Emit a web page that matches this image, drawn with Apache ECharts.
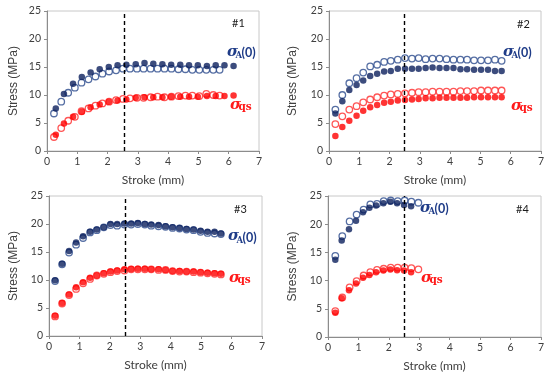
<!DOCTYPE html>
<html><head><meta charset="utf-8">
<script src="https://cdn.jsdelivr.net/npm/echarts@6/dist/echarts.min.js"></script>
<style>html,body{margin:0;padding:0;background:#fff}#c{width:550px;height:375px}</style>
</head><body><div id="c"></div>
<script>
// ---- Panel #1 ----
const p1FilledX = [0.29,0.56,0.86,1.15,1.44,1.74,2.04,2.33,2.62,2.93,3.22,3.51,3.81,4.10,4.40,4.69,4.98,5.28,5.57,5.86,6.16];
const p1NavyFilled = [7.6,10.2,12.0,13.2,14.0,14.6,15.0,15.3,15.4,15.5,15.7,15.6,15.5,15.4,15.4,15.3,15.3,15.2,15.3,15.3,15.2];
const p1RedFilled = [2.9,4.9,6.1,7.0,7.8,8.3,8.8,9.0,9.2,9.5,9.6,9.6,9.6,9.7,9.7,9.7,9.7,9.8,9.8,9.8,9.9];
const p1OpenX = [0.23,0.47,0.70,0.92,1.14,1.37,1.60,1.83,2.05,2.28,2.51,2.74,2.97,3.19,3.42,3.65,3.88,4.11,4.34,4.57,4.80,5.03,5.26,5.49,5.70];
const p1NavyOpen = [6.7,8.8,10.4,11.3,12.2,12.8,13.3,13.8,14.2,14.4,14.7,14.7,14.7,14.7,14.7,14.7,14.7,14.7,14.6,14.6,14.5,14.5,14.5,14.5,14.5];
const p1RedOpen = [2.5,4.1,5.4,6.1,7.1,7.6,8.1,8.5,8.8,9.1,9.3,9.4,9.5,9.5,9.6,9.7,9.6,9.7,9.8,9.9,9.9,9.8,10.2,10.0,9.9];
// ---- Panel #2 ----
const p2X = [0.21,0.44,0.67,0.91,1.13,1.36,1.59,1.82,2.04,2.27,2.51,2.74,2.96,3.19,3.42,3.65,3.88,4.11,4.34,4.56,4.79,5.02,5.25,5.48,5.70];
const p2NavyOpen = [7.4,10.0,12.1,13.0,14.0,15.1,15.4,15.9,16.1,16.3,16.6,16.5,16.6,16.4,16.5,16.5,16.4,16.3,16.3,16.3,16.2,16.2,16.2,16.3,16.1];
const p2NavyFilled = [6.7,8.9,10.9,11.8,12.6,13.4,13.8,14.2,14.3,14.7,14.7,14.7,14.7,14.8,14.9,14.8,14.8,14.8,14.6,14.6,14.5,14.5,14.5,14.3,14.3];
const p2RedOpen = [4.8,6.2,7.4,8.0,8.7,9.2,9.6,9.9,10.1,10.2,10.3,10.4,10.5,10.5,10.6,10.6,10.6,10.6,10.7,10.7,10.7,10.8,10.8,10.8,10.8];
const p2RedFilled = [2.7,4.3,5.4,6.3,7.2,7.8,8.2,8.6,8.8,9.0,9.1,9.2,9.3,9.4,9.4,9.5,9.5,9.5,9.5,9.5,9.6,9.6,9.6,9.6,9.6];
// ---- Panel #3 ----
const p3X = [0.20,0.43,0.66,0.89,1.12,1.35,1.57,1.80,2.02,2.24,2.48,2.70,2.92,3.15,3.36,3.60,3.83,4.06,4.29,4.52,4.75,4.98,5.21,5.44,5.65];
const p3NavyFilled = [9.95,12.9,15.2,16.7,17.8,18.6,19.0,19.4,20.0,20.0,20.1,20.1,20.2,20.0,19.9,19.8,19.6,19.4,19.3,19.1,19.0,18.8,18.6,18.6,18.3];
const p3NavyOpen = [9.8,12.8,14.9,16.3,17.5,18.5,18.9,19.4,19.8,19.7,19.9,19.9,20.0,19.9,19.7,19.6,19.5,19.3,19.2,19.0,18.9,18.6,18.4,18.3,18.2];
const p3RedFilled = [3.6,5.9,7.4,8.7,9.6,10.4,10.8,11.2,11.5,11.7,11.9,11.95,12.0,12.0,11.9,11.9,11.8,11.6,11.6,11.5,11.5,11.4,11.3,11.2,11.1];
const p3RedOpen = [3.5,5.8,7.3,8.4,9.4,10.2,10.8,11.1,11.4,11.6,11.7,11.9,11.9,11.9,11.9,11.8,11.8,11.6,11.5,11.5,11.4,11.3,11.2,11.1,11.0];
// ---- Panel #4 ----
const p4FilledX = [0.24,0.45,0.69,0.92,1.15,1.36,1.58,1.82,2.05,2.27,2.50,2.73];
const p4NavyFilled = [13.7,17.1,19.1,20.6,22.1,22.9,23.3,23.7,24.0,23.7,23.4,23.2];
const p4RedFilled = [4.3,6.85,8.3,9.5,10.5,11.0,11.5,11.8,11.95,11.85,11.8,11.5];
const p4OpenX = [0.24,0.47,0.71,0.94,1.17,1.39,1.61,1.83,2.06,2.29,2.52,2.74,2.97];
const p4NavyOpen = [14.4,17.9,20.5,21.7,22.6,23.5,23.6,24.1,24.2,24.1,24.2,24.0,23.8];
const p4RedOpen = [4.6,7.0,8.8,9.9,10.9,11.5,11.9,12.1,12.3,12.3,12.3,12.2,12.0];

const dashedX = [2.55, 2.5, 2.5, 2.5];
const panelTags = ['#1', '#2', '#3', '#4'];
const xTitle = 'Stroke (mm)';
const yTitle = 'Stress (MPa)';

const NAVY = '#0b1f5c', NAVY_OPEN = '#2a4a8c', RED = '#ff0000', RED_OPEN = '#ff2a2a';
const LABEL_NAVY = '#1f3c88', LABEL_RED = '#ff1a1a';

const grids = [
  {left:47, top:11, width:212, height:140},
  {left:329, top:11, width:212, height:140},
  {left:49, top:196, width:213, height:140},
  {left:328, top:196, width:213, height:141}
];
const yNameGaps = [27, 30, 29, 29];

const pairs = (xs, ys) => xs.map((x, i) => [x, ys[i]]);

const panels = [
  {openX:p1OpenX, navyOpen:p1NavyOpen, redOpen:p1RedOpen, filledX:p1FilledX, navyFilled:p1NavyFilled, redFilled:p1RedFilled},
  {openX:p2X, navyOpen:p2NavyOpen, redOpen:p2RedOpen, filledX:p2X, navyFilled:p2NavyFilled, redFilled:p2RedFilled},
  {openX:p3X, navyOpen:p3NavyOpen, redOpen:p3RedOpen, filledX:p3X, navyFilled:p3NavyFilled, redFilled:p3RedFilled},
  {openX:p4OpenX, navyOpen:p4NavyOpen, redOpen:p4RedOpen, filledX:p4FilledX, navyFilled:p4NavyFilled, redFilled:p4RedFilled}
];

const AX = '#8c8c8c';
const FONT = 'Lato, "Open Sans", sans-serif';

const xAxes = [], yAxes = [], series = [];
grids.forEach((g, i) => {
  xAxes.push({
    gridIndex:i, type:'value', min:0, max:7, interval:1,
    name:xTitle, nameLocation:'middle', nameGap:23,
    nameTextStyle:{fontFamily:FONT, fontSize:12, color:'#404040'},
    axisLine:{show:true, onZero:false, lineStyle:{color:AX, width:1}},
    axisTick:{show:true, inside:false, length:3, lineStyle:{color:AX}},
    axisLabel:{fontFamily:FONT, fontSize:10.5, color:'#404040', margin:5},
    splitLine:{show:false}
  });
  yAxes.push({
    gridIndex:i, type:'value', min:0, max:25, interval:5,
    name:yTitle, nameLocation:'middle', nameGap:yNameGaps[i],
    nameTextStyle:{fontFamily:'"Liberation Sans", Arial, sans-serif', fontSize:12, color:'#404040'},
    axisLine:{show:true, lineStyle:{color:AX, width:1}},
    axisTick:{show:true, inside:false, length:3, lineStyle:{color:AX}},
    axisLabel:{fontFamily:FONT, fontSize:10.5, color:'#404040', margin:6},
    splitLine:{show:false}
  });
  const p = panels[i];
  const base = {type:'scatter', xAxisIndex:i, yAxisIndex:i, symbol:'circle', symbolSize:6.5, silent:true, animation:false};
  series.push(Object.assign({}, base, {
    name:'navyOpen'+i, data:pairs(p.openX, p.navyOpen), z:2,
    itemStyle:{color:'#ffffff', borderColor:NAVY_OPEN, borderWidth:1.3},
    markLine:{silent:true, symbol:'none', label:{show:false},
      lineStyle:{color:'#000', type:[4,3], width:1.4},
      data:[{xAxis:dashedX[i]}]}
  }));
  series.push(Object.assign({}, base, {
    name:'redOpen'+i, data:pairs(p.openX, p.redOpen), z:2,
    itemStyle:{color:'#ffffff', borderColor:RED_OPEN, borderWidth:1.3}
  }));
  series.push(Object.assign({}, base, {
    name:'navyFilled'+i, data:pairs(p.filledX, p.navyFilled), z:3,
    itemStyle:{color:NAVY}
  }));
  series.push(Object.assign({}, base, {
    name:'redFilled'+i, data:pairs(p.filledX, p.redFilled), z:3,
    itemStyle:{color:RED}
  }));
});

const tagPos = [[238.5,23.5],[523.5,24],[240.5,209],[522.5,209]];
const sigAPos = [[227,57],[503,57],[228,241.5],[420,213]];
const sigQPos = [[230,110],[511,111],[229,283],[421,283]];

const SERIF = '"DejaVu Serif", "Liberation Serif", serif';
const graphics = [];
tagPos.forEach((t, i) => {
  graphics.push({type:'text', x:t[0], y:t[1], silent:true,
    style:{text:panelTags[i], fontFamily:FONT, fontSize:11, fill:'#1a1a1a', align:'center', verticalAlign:'middle'}});
});
sigAPos.forEach(([x, b]) => {
  graphics.push({type:'text', x:x, y:b-5, silent:true,
    style:{text:'σ', fontFamily:SERIF, fontStyle:'italic', fontWeight:'bold', fontSize:15, fill:LABEL_NAVY, verticalAlign:'middle'}});
  graphics.push({type:'text', x:x+8.5, y:b-1, silent:true,
    style:{text:'A', fontFamily:SERIF, fontWeight:'bold', fontSize:8.5, fill:LABEL_NAVY, verticalAlign:'middle'}});
  graphics.push({type:'text', x:x+14.5, y:b-4, silent:true,
    style:{text:'(0)', fontFamily:FONT, fontWeight:'bold', fontSize:12.5, fill:LABEL_NAVY, verticalAlign:'middle'}});
});
sigQPos.forEach(([x, b]) => {
  graphics.push({type:'text', x:x, y:b-5, silent:true,
    style:{text:'σ', fontFamily:SERIF, fontStyle:'italic', fontWeight:'bold', fontSize:15, fill:LABEL_RED, verticalAlign:'middle'}});
  graphics.push({type:'text', x:x+8.5, y:b-2.5, silent:true,
    style:{text:'qs', fontFamily:SERIF, fontWeight:'bold', fontSize:10.5, fill:LABEL_RED, verticalAlign:'middle'}});
});

const chart = echarts.init(document.getElementById('c'), null, {renderer:'canvas'});
chart.setOption({
  animation:false,
  backgroundColor:'#ffffff',
  grid: grids.map(g => Object.assign({show:true, borderColor:'#c8c8c8', borderWidth:1, backgroundColor:'transparent', containLabel:false}, g)),
  xAxis: xAxes,
  yAxis: yAxes,
  series: series,
  graphic: graphics
});
</script>
</body></html>
